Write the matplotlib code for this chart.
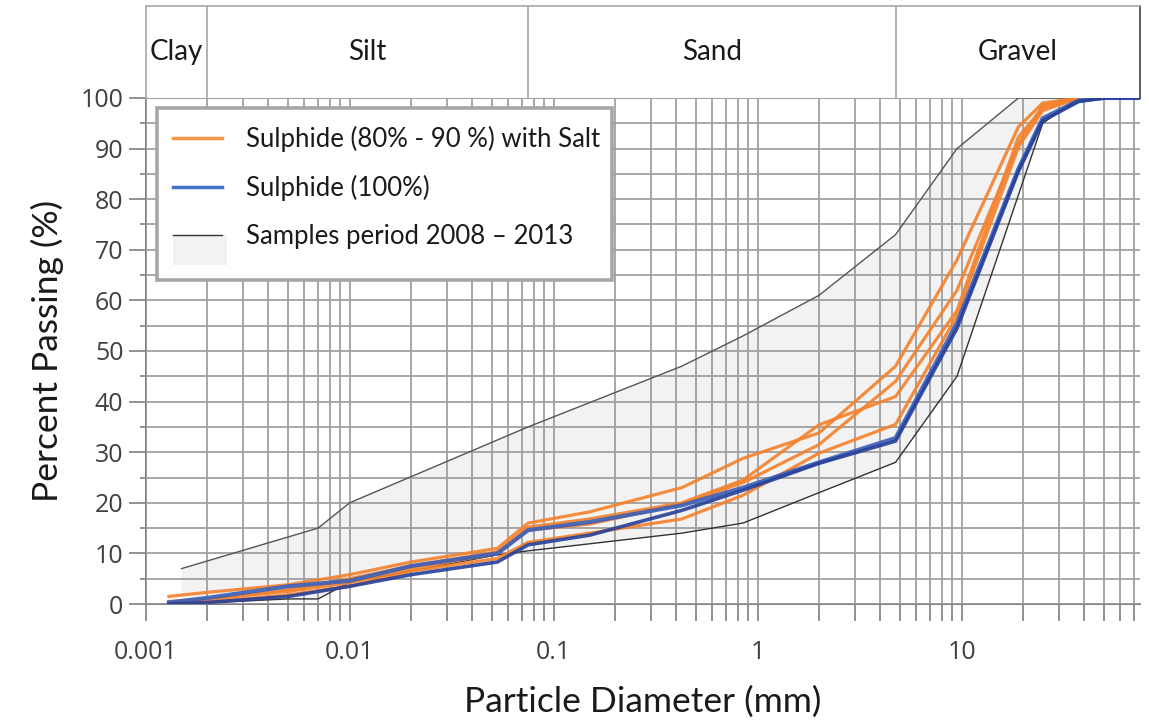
import numpy as np
import matplotlib
matplotlib.use("Agg")
import matplotlib.pyplot as plt
from matplotlib.lines import Line2D
from matplotlib.patches import Rectangle, Patch
from matplotlib.legend_handler import HandlerBase
from matplotlib.ticker import LogLocator, FixedLocator, NullFormatter, FuncFormatter

# sieve sizes (mm) used by the curves
sizes = [0.0013, 0.002, 0.005, 0.01, 0.02, 0.053, 0.075, 0.15, 0.425, 0.85,
         2, 4.75, 9.5, 19, 25, 37.5, 50, 75]

# Sulphide (80% - 90 %) with Salt
orange_1 = [1.5, 2.3, 3.8, 5.8, 8.3, 11.0, 16.0, 18.2, 23.0, 28.8, 33.8, 47.0, 68.0, 94.3, 99.0, 100, 100, 100]
orange_2 = [0.3, 0.8, 2.8, 5.0, 7.5, 10.3, 15.2, 16.8, 20.0, 24.5, 35.4, 41.0, 58.0, 92.3, 98.0, 100, 100, 100]
orange_3 = [0.0, 0.3, 1.8, 3.5, 6.5, 9.0, 12.2, 14.0, 16.8, 21.5, 29.8, 35.5, 57.0, 90.3, 97.5, 100, 100, 100]
orange_4 = [0.5, 1.0, 2.5, 4.2, 7.0, 10.0, 14.6, 15.8, 19.8, 24.0, 31.5, 44.0, 62.0, 91.0, 98.5, 100, 100, 100]

# Sulphide (100%)
blue_1 = [0.3, 1.2, 3.5, 4.6, 7.5, 10.0, 14.6, 16.2, 19.5, 23.0, 28.0, 32.8, 55.5, 86.0, 96.0, 99.5, 100, 100]
blue_2 = [0.0, 0.3, 1.5, 3.5, 5.8, 8.3, 11.7, 13.6, 18.5, 22.5, 27.8, 32.2, 54.5, 85.5, 95.5, 99.3, 100, 100]

# envelope of samples 2008 - 2013
env_up_x = [0.0015, 0.007, 0.01, 0.075, 0.425, 0.85, 2, 4.75, 9.5, 19, 75]
env_up = [7, 15, 20, 35, 47, 53, 61, 73, 90, 100, 100]
env_lo_x = [0.0015, 0.005, 0.007, 0.01, 0.053, 0.075, 0.425, 0.85, 2, 4.75, 9.5, 25, 37.5, 75]
env_lo = [0.0, 1, 1, 4.3, 9.7, 10.5, 14, 16, 22, 28, 45, 95, 100, 100]

# soil classes (upper band)
class_names = ["Clay", "Silt", "Sand", "Gravel"]
class_edges = [0.001, 0.002, 0.075, 4.75, 75]

xmin, xmax = 0.001, 75
orange = "#f5812c"
blue = "#3a5fb8"
dark_blue = "#26409a"
grid_col = "#a0a0a0"

fig = plt.figure(figsize=(11.49, 7.2), dpi=100)
L, R, B, T = 145.7 / 1149, 1140 / 1149, 116 / 720, 622 / 720
ax = fig.add_axes([L, B, R - L, T - B])

# samples envelope
poly_x = list(env_up_x) + list(env_lo_x[::-1])
poly_y = list(env_up) + list(env_lo[::-1])
ax.fill(poly_x, poly_y, color="#f2f2f2", lw=0, zorder=1)
ax.plot(env_up_x, env_up, color="#555555", lw=1.0, zorder=3)
ax.plot(env_lo_x, env_lo, color="#333333", lw=1.0, zorder=3)

for ys in [orange_1, orange_2, orange_3, orange_4]:
    ax.plot(sizes, ys, color=orange, lw=2.3, alpha=0.9, zorder=4, solid_joinstyle="round")
ax.plot(sizes, blue_1, color=blue, lw=3.0, alpha=0.9, zorder=5, solid_joinstyle="round")
ax.plot(sizes, blue_2, color=dark_blue, lw=2.6, alpha=0.9, zorder=5, solid_joinstyle="round")

ax.set_xscale("log")
ax.set_xlim(xmin, xmax)
ax.set_ylim(0, 100)
ax.xaxis.set_major_locator(LogLocator(base=10, numticks=10))
ax.xaxis.set_minor_locator(LogLocator(base=10, subs=np.arange(2, 10), numticks=100))
ax.xaxis.set_major_formatter(FuncFormatter(lambda v, p: f"{v:g}"))
ax.xaxis.set_minor_formatter(NullFormatter())
ax.yaxis.set_major_locator(FixedLocator(range(0, 101, 10)))
ax.yaxis.set_minor_locator(FixedLocator(range(5, 100, 10)))

ax.grid(True, which="both", axis="both", color=grid_col, lw=1.3)
for art in ax.get_xgridlines() + ax.get_ygridlines():
    art.set_zorder(2)
ax.set_axisbelow(False)

for s in ["left", "bottom", "top"]:
    ax.spines[s].set_color("#7f7f7f")
    ax.spines[s].set_linewidth(1.4)
ax.spines["right"].set_visible(False)

ax.tick_params(axis="x", which="both", direction="out", length=12, width=1.2,
               color="#7f7f7f", pad=14, labelsize=18, labelcolor="#404040")
ax.tick_params(axis="y", which="major", direction="out", length=12, width=1.2,
               color="#7f7f7f", pad=4, labelsize=18, labelcolor="#404040")
ax.tick_params(axis="y", which="minor", direction="out", length=4, width=1.2, color="#7f7f7f")
for lab in ax.get_xticklabels() + ax.get_yticklabels():
    lab.set_family("Open Sans")

ax.set_xlabel("Particle Diameter (mm)", family="Lato", fontsize=25.5, color="#1a1a1a", labelpad=15)
ax.set_ylabel("Percent Passing (%)", family="Lato", fontsize=25.5, color="#1a1a1a", labelpad=12)


# legend with a combined line + patch entry
class EnvHandler(HandlerBase):
    def create_artists(self, legend, orig, xd, yd, w, h, fontsize, trans):
        rect = Rectangle((xd, yd - 1.2 * h), w * 1.1, 1.7 * h, fc="#f2f2f2", ec="none", transform=trans)
        line = Line2D([xd, xd + w], [yd + 0.5 * h] * 2, color="#333333", lw=1.0, transform=trans)
        return [rect, line]


# legend frame drawn on its own
ax.add_patch(Rectangle((0.0114, 0.6403), 0.469 - 0.0114, 0.9802 - 0.6403, transform=ax.transAxes,
                       fc="white", ec="#a6a6a6", lw=2.6, zorder=9))

env_handle = Patch()
handles = [Line2D([], [], color="#f79646", lw=2.5),
           Line2D([], [], color="#4472c4", lw=2.5),
           env_handle]
labels = ["Sulphide (80% - 90 %) with Salt", "Sulphide (100%)", "Samples period 2008 \u2013 2013"]
leg = ax.legend(handles, labels, loc="upper left", bbox_to_anchor=(0.0275, 0.944),
                borderaxespad=0, borderpad=0, frameon=False,
                prop={"family": "Lato", "size": 18.5},
                handlelength=1.9, handletextpad=0.92, labelspacing=0.88,
                handler_map={env_handle: EnvHandler()})
leg.set_zorder(10)
for t in leg.get_texts():
    t.set_color("#1a1a1a")

# soil class band above the plot
axh = fig.add_axes([L, T, R - L, 0.992 - T])
axh.set_xscale("log")
axh.set_xlim(xmin, xmax)
axh.set_ylim(0, 1)
axh.set_xticks([])
axh.set_yticks([])
axh.xaxis.set_minor_locator(FixedLocator([]))
for s in ["left", "top"]:
    axh.spines[s].set_color("#a6a6a6")
    axh.spines[s].set_linewidth(1.2)
axh.spines["bottom"].set_visible(False)
axh.spines["right"].set_color("#404040")
axh.spines["right"].set_linewidth(1.2)
for e in class_edges[1:-1]:
    axh.axvline(e, color="#a6a6a6", lw=1.2)
for i, name in enumerate(class_names):
    xc = np.sqrt(class_edges[i] * class_edges[i + 1])
    axh.text(xc, 0.5, name, ha="center", va="center", family="Lato", fontsize=20, color="#1a1a1a")

fig.savefig("out.png", dpi=100)
